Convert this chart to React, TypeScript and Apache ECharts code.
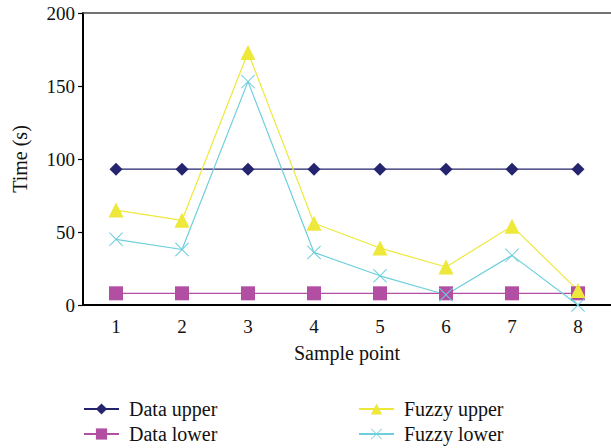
import React, { useEffect, useRef } from "react";
import * as echarts from "echarts";

const categories = ["1", "2", "3", "4", "5", "6", "7", "8"];
const dataUpper = [93, 93, 93, 93, 93, 93, 93, 93];
const dataLower = [8, 8, 8, 8, 8, 8, 8, 8];
const fuzzyUpper = [65, 58, 173, 56, 39, 26, 54, 10];
const fuzzyLower = [45, 38, 153, 36, 20, 7, 34, 0];

const FONT = "'Liberation Serif', 'Times New Roman', serif";
const xSymbol =
  "path://M0,1L1,0L10,9L19,0L20,1L11,10L20,19L19,20L10,11L1,20L0,19L9,10Z";

export default function App() {
  const ref = useRef<HTMLDivElement>(null);
  useEffect(() => {
    if (!ref.current) return;
    const chart = echarts.init(ref.current, undefined, { renderer: "svg" });
    const mk = (name: string, data: number[], color: string, symbol: string, size: number) => ({
      name,
      type: "line",
      data,
      symbol,
      symbolSize: size,
      lineStyle: { color, width: 1.2 },
      itemStyle: { color },
      z: 2,
    });
    const legendText = {
      fontFamily: FONT,
      fontSize: 20,
      lineHeight: 20,
      color: "#111",
      padding: [0, 0, 0, 5],
    };
    chart.setOption({
      animation: false,
      textStyle: { fontFamily: FONT },
      grid: { left: 83, right: 0, top: 13, bottom: 143 },
      legend: [
        {
          data: ["Data upper", "Data lower"],
          orient: "vertical",
          left: 83,
          top: 399,
          padding: 0,
          itemWidth: 35,
          itemHeight: 14,
          itemGap: 5,
          textStyle: legendText,
        },
        {
          data: ["Fuzzy upper", "Fuzzy lower"],
          orient: "vertical",
          left: 358,
          top: 399,
          padding: 0,
          itemWidth: 35,
          itemHeight: 14,
          itemGap: 5,
          textStyle: legendText,
        },
      ],
      xAxis: [
        {
          type: "category",
          data: categories,
          boundaryGap: true,
          name: "Sample point",
          nameLocation: "middle",
          nameGap: 38,
          nameTextStyle: { fontFamily: FONT, fontSize: 20, color: "#111" },
          axisLine: { lineStyle: { color: "#000", width: 2 } },
          axisTick: { inside: true, length: 6, lineStyle: { color: "#000", width: 1.2 } },
          axisLabel: { fontFamily: FONT, fontSize: 19, color: "#111", margin: 12 },
        },
        {
          type: "category",
          data: categories,
          position: "top",
          axisLine: { lineStyle: { color: "#444", width: 1.5 } },
          axisTick: { show: false },
          axisLabel: { show: false },
        },
      ],
      yAxis: {
        type: "value",
        min: 0,
        max: 200,
        interval: 50,
        name: "Time (s)",
        nameLocation: "middle",
        nameGap: 53,
        nameTextStyle: { fontFamily: FONT, fontSize: 20, color: "#111" },
        axisLine: { show: true, lineStyle: { color: "#000", width: 2 } },
        axisTick: { show: true, length: 5, lineStyle: { color: "#000", width: 1.2 } },
        axisLabel: { fontFamily: FONT, fontSize: 19, color: "#111", margin: 8 },
        splitLine: { show: false },
      },
      series: [
        mk("Data upper", dataUpper, "#25246e", "diamond", 13),
        mk("Data lower", dataLower, "#b24fa2", "rect", 14),
        mk("Fuzzy upper", fuzzyUpper, "#eee83a", "triangle", 15),
        mk("Fuzzy lower", fuzzyLower, "#6ccfdc", xSymbol, 14),
      ],
    });
    return () => chart.dispose();
  }, []);
  return (
    <div
      ref={ref}
      style={{ position: "absolute", left: 0, top: 0, width: 611, height: 448, background: "#fff" }}
    />
  );
}
